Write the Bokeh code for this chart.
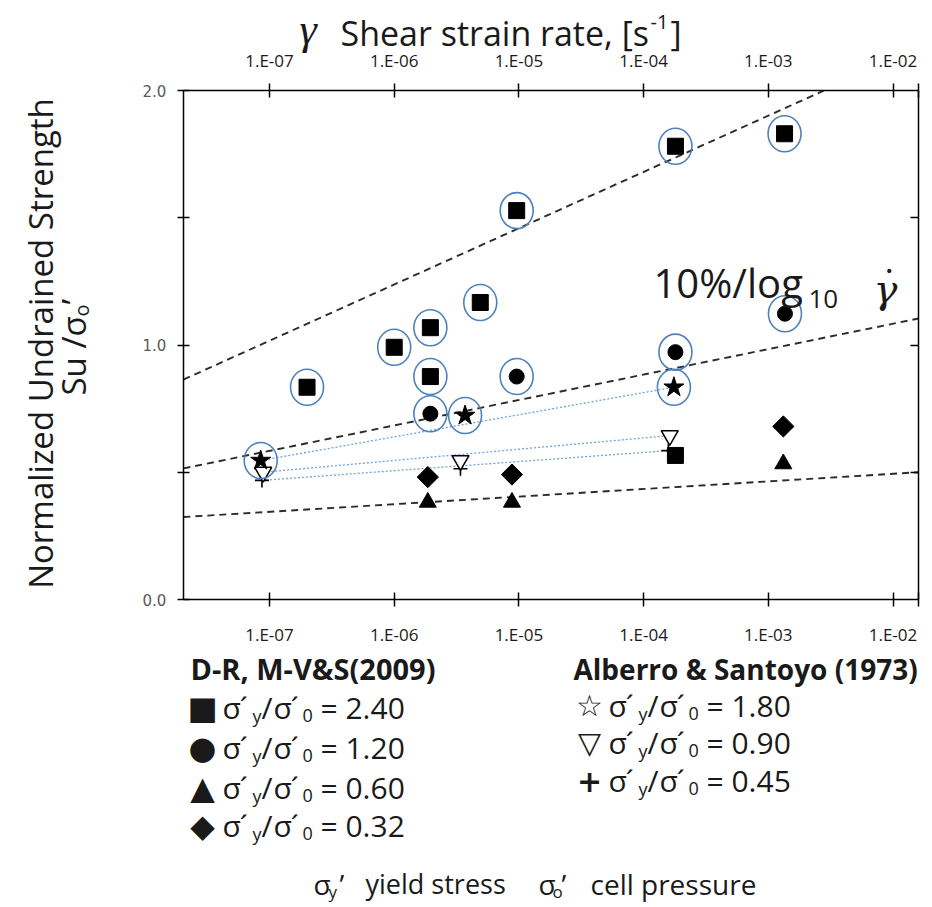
import math
from bokeh.plotting import figure
from bokeh.models import Range1d, FixedTicker, LogAxis, LinearAxis, Label
from bokeh.embed import file_html
from bokeh.resources import INLINE

# ---------------- data ----------------
# D-R, M-V&S (2009)
sq_rate = [2.0e-7, 1.0e-6, 1.95e-6, 1.95e-6, 4.9e-6, 9.6e-6, 1.8e-4, 1.35e-3, 1.8e-4]
sq_su = [0.834, 0.991, 1.068, 0.876, 1.167, 1.528, 1.781, 1.830, 0.566]
sq_ring = [1, 1, 1, 1, 1, 1, 1, 1, 0]

ci_rate = [1.95e-6, 9.6e-6, 1.8e-4, 1.36e-3]
ci_su = [0.730, 0.876, 0.972, 1.123]

tr_rate = [1.86e-6, 8.8e-6, 1.32e-3]
tr_su = [0.382, 0.382, 0.533]

di_rate = [1.86e-6, 8.8e-6, 1.32e-3]
di_su = [0.481, 0.491, 0.680]

# Alberro & Santoyo (1973)
st_rate = [8.5e-8, 3.7e-6, 1.75e-4]
st_su = [0.546, 0.723, 0.834]
iv_rate = [8.9e-8, 3.4e-6, 1.62e-4]
iv_su = [0.500, 0.546, 0.644]
pl_rate = [8.7e-8, 3.4e-6, 1.58e-4]
pl_su = [0.468, 0.514, 0.585]

# 10%/log10 reference lines (end points)
ref_rate = [[2.04e-8, 2.8e-3], [2.04e-8, 1.6e-2], [2.04e-8, 1.6e-2]]
ref_su = [[0.864, 2.0], [0.515, 1.104], [0.324, 0.500]]

tick_rates = [1e-7, 1e-6, 1e-5, 1e-4, 1e-3, 1e-2]
tick_labels = ["1.E-07", "1.E-06", "1.E-05", "1.E-04", "1.E-03", "1.E-02"]
y_ticks = [0.0, 0.5, 1.0, 1.5, 2.0]
y_tick_labels = ["0.0", "", "1.0", "", "2.0"]

mvs_ratio = ["2.40", "1.20", "0.60", "0.32"]
mvs_sym = ["■", "●", "▲", "◆"]
as_ratio = ["1.80", "0.90", "0.45"]
as_sym = ["☆", "▽", "+"]

# ---------------- geometry ----------------
W, H = 932, 907
PX_DEC = 124.7          # px per decade
X_1E7 = 269             # canvas x of 1e-7
PX_UNIT = 254.5         # px per 1.0 of Su/s0
Y_0 = 599               # canvas y of 0.0


def lx(X):
    return 10 ** (-7 + (X - X_1E7) / PX_DEC)


def vy(Y):
    return (Y_0 - Y) / PX_UNIT


X0, X1 = 2.04e-8, 1.60e-2   # plot box limits of the strain-rate axis
Y0, Y1 = 0.0, 2.0

p = figure(width=W, height=H, x_axis_type="log", title=None,
           x_range=Range1d(lx(0), lx(W)), y_range=Range1d(vy(H), vy(0)),
           output_backend="svg", toolbar_location=None,
           min_border_left=0, min_border_right=0, min_border_top=0, min_border_bottom=0)
p.grid.visible = False
p.outline_line_color = None
p.background_fill_color = "white"
p.border_fill_color = "white"


def style_axis(ax, ticks, labels, tin, tout, standoff, font, size, color, loc, bounds):
    ax.ticker = FixedTicker(ticks=ticks, minor_ticks=[])
    ax.major_label_overrides = dict(zip(ticks, labels))
    ax.major_tick_in = tin
    ax.major_tick_out = tout
    ax.minor_tick_line_color = None
    ax.axis_line_color = "black"
    ax.axis_line_width = 1.5
    ax.major_tick_line_color = "black"
    ax.major_tick_line_width = 1.5
    ax.major_label_standoff = standoff
    ax.major_label_text_font = font
    ax.major_label_text_font_size = f"{size}px"
    ax.major_label_text_color = color
    ax.fixed_location = loc
    ax.bounds = bounds


xt = tick_rates + [X1]
xl = tick_labels + [""]
style_axis(p.xaxis[0], xt, xl, 7, 7, 16, "Open Sans", 17, "#1a1a1a", Y0, (X0, X1))
style_axis(p.yaxis[0], y_ticks, y_tick_labels, 6, 6, 11, "DejaVu Sans", 15, "#595959", X0, (Y0, Y1))

top = LogAxis()
style_axis(top, xt, xl, 7, 7, 12, "Open Sans", 17, "#1a1a1a", Y1, (X0, X1))
p.add_layout(top, "above")

right = LinearAxis()
style_axis(right, [0.5, 1.0, 1.5], ["", "", ""], 8, 0, 0, "Open Sans", 0, "#1a1a1a", X1, (Y0, Y1))
p.add_layout(right, "right")

# ---------------- marks ----------------
K = "black"
for xs, ys in zip(ref_rate, ref_su):
    p.line(xs, ys, line_color="#2b2b2b", line_width=1.9, line_dash="7 5")

for r, s in [(st_rate, st_su), (iv_rate, iv_su), (pl_rate, pl_su)]:
    p.line([r[0], r[-1]], [s[0], s[-1]], line_color="#6fa3da", line_width=1.3, line_dash="2 2")

p.scatter(pl_rate, pl_su, marker="cross", size=14, line_color=K, line_width=1.6)
p.scatter(iv_rate, iv_su, marker="inverted_triangle", size=17, fill_color="white",
          line_color=K, line_width=1.5)
p.scatter(st_rate, st_su, marker="star", size=21, fill_color=K, line_color=K)
p.scatter(sq_rate, sq_su, marker="square", size=16, fill_color=K, line_color=K)
p.scatter(ci_rate, ci_su, marker="circle", size=15, fill_color=K, line_color=K)
p.scatter(tr_rate, tr_su, marker="triangle", size=17, fill_color=K, line_color=K)
p.scatter(di_rate, di_su, marker="square", angle=math.pi / 4, size=15, fill_color=K, line_color=K)

ring_rate = [r for r, k in zip(sq_rate, sq_ring) if k] + ci_rate + st_rate
ring_su = [s for s, k in zip(sq_su, sq_ring) if k] + ci_su + st_su
p.ellipse(x=ring_rate, y=ring_su, width=33, height=36, width_units="screen",
          height_units="screen", fill_color=None, line_color="#4f81bd", line_width=1.6)


# ---------------- texts (canvas px positions) ----------------
def put(X, Y, text, size, font="Open Sans", style="normal", color="#1a1a1a",
        align="left", baseline="middle", angle=0.0):
    p.add_layout(Label(x=X, y=H - Y, x_units="screen", y_units="screen", text=text,
                       text_font=font, text_font_size=f"{size}px", text_font_style=style,
                       text_color=color, text_align=align, text_baseline=baseline,
                       angle=angle))


# top title
put(299, 29, "γ", 44, font="Liberation Serif", style="italic")
put(340, 32, "Shear strain rate, [s", 34)
put(650, 21, "-1", 20)
put(670, 32, "]", 34)

# slope annotation
put(653, 282, "10%/log", 40)
put(808, 298, "10", 26)
put(873, 288, "γ", 40, font="DejaVu Serif", style="italic")
put(882, 281, "˙", 40, font="Liberation Serif")

# y axis title
put(40, 343, "Normalized Undrained Strength", 33, align="center", angle=math.pi / 2)
put(73, 395, "Su /σ", 33, angle=math.pi / 2)
put(81, 316, "o", 20, angle=math.pi / 2)
put(73, 304, "’", 33, angle=math.pi / 2)


def ratio_item(x0, yc, val):
    put(x0, yc, "σ", 30)
    put(x0 + 17, yc, "´", 30)
    put(x0 + 30, yc + 8, "y", 18)
    put(x0 + 39, yc, "/", 30)
    put(x0 + 51, yc, "σ", 30)
    put(x0 + 68, yc, "´", 30)
    put(x0 + 80, yc + 8, "0", 18)
    put(x0 + 98, yc, "= " + val, 30)


put(190, 668, "D-R, M-V&S(2009)", 29, style="bold")
for i, (sym, val) in enumerate(zip(mvs_sym, mvs_ratio)):
    yc = [707, 747, 787, 825][i]
    put(202, yc, sym, 32, font="DejaVu Sans", align="center")
    ratio_item(222, yc, val)

put(573, 668, "Alberro & Santoyo (1973)", 28, style="bold")
for i, (sym, val) in enumerate(zip(as_sym, as_ratio)):
    yc = [705, 742, 780][i]
    put(589, yc, sym, 30, font="DejaVu Sans", style="bold" if sym == "+" else "normal",
        align="center")
    ratio_item(608, yc, val)

# bottom note
put(313, 883, "σ", 28)
put(328, 891, "y", 17)
put(339, 883, "’", 28)
put(365, 883, "yield stress", 27)
put(538, 883, "σ", 28)
put(552, 891, "o", 17)
put(561, 883, "’", 28)
put(590, 883, "cell pressure", 28)

open("out.html", "w").write(file_html(p, INLINE))
